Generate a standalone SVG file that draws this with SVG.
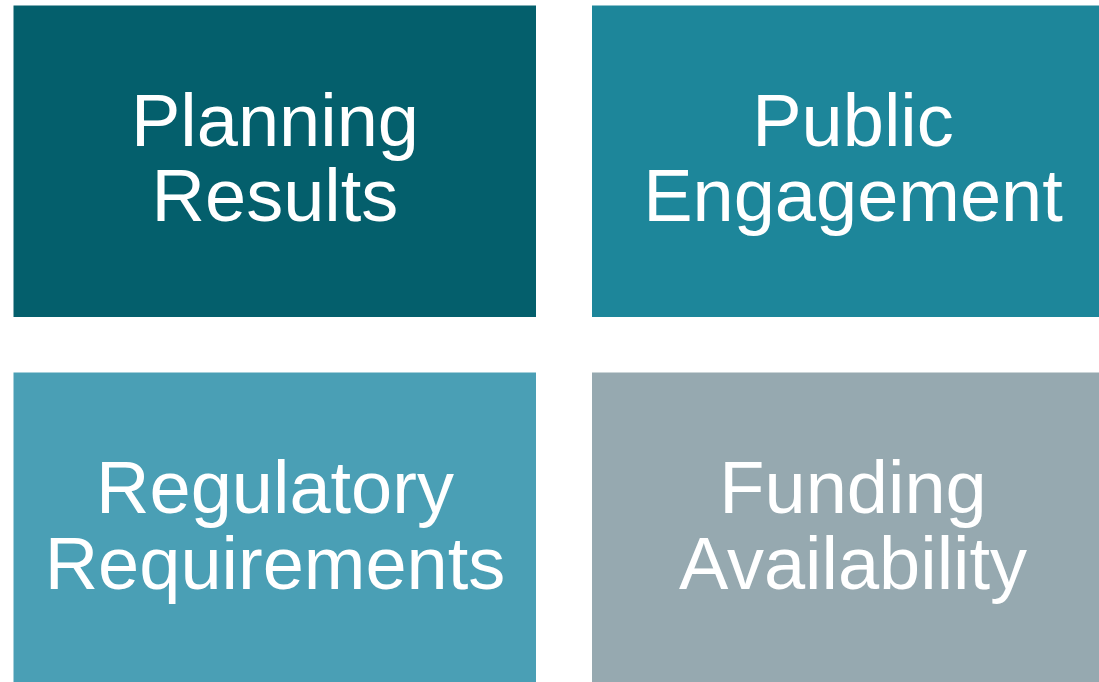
<svg xmlns="http://www.w3.org/2000/svg" width="1099" height="682" viewBox="0 0 1099 682">
<style>
.lbl{font-family:"Liberation Sans",Arial,sans-serif;font-size:74px;fill:#ffffff;text-anchor:middle}
</style>
<rect width="1099" height="682" fill="#ffffff"/>
<g id="planning-results">
<rect x="13.5" y="5.5" width="522.5" height="311.5" fill="#045F6C"/>
<text class="lbl" x="275" y="146">Planning</text>
<text class="lbl" x="275" y="221">Results</text>
</g>
<g id="public-engagement">
<rect x="592" y="5.5" width="522.5" height="311.5" fill="#1D869A"/>
<text class="lbl" x="853" y="146">Public</text>
<text class="lbl" x="853" y="221">Engagement</text>
</g>
<g id="regulatory-requirements">
<rect x="13.5" y="372.5" width="522.5" height="315" fill="#4A9FB5"/>
<text class="lbl" x="275" y="513">Regulatory</text>
<text class="lbl" x="275" y="589">Requirements</text>
</g>
<g id="funding-availability">
<rect x="592" y="372.5" width="522.5" height="315" fill="#96A9B0"/>
<text class="lbl" x="853" y="513">Funding</text>
<text class="lbl" x="853" y="589">Availability</text>
</g>
<g id="connectors"></g>
</svg>
